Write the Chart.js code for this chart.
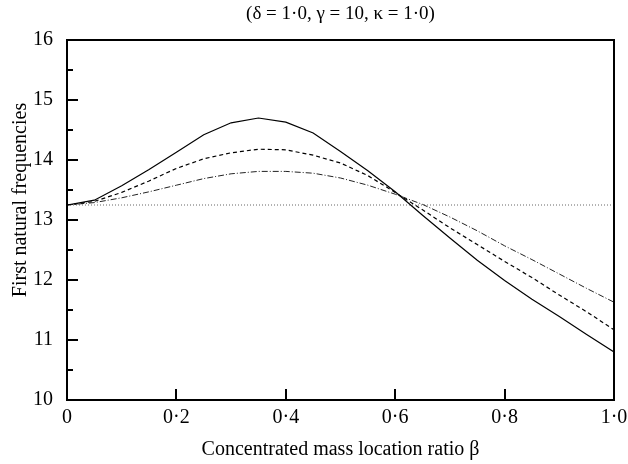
<!DOCTYPE html>
<html lang="en">
<head>
    <meta charset="UTF-8">
    <title>First natural frequencies</title>
    <style>
        html, body { margin: 0; padding: 0; background: #ffffff; }
    </style>
</head>
<body>
    <canvas id="freqChart" width="628" height="464"></canvas>

    <script src="https://cdn.jsdelivr.net/npm/chart.js"></script>
    <script>
        // concentrated mass location ratio beta
        const beta = [0, 0.05, 0.1, 0.15, 0.2, 0.25, 0.3, 0.35, 0.4, 0.45, 0.5,
                      0.55, 0.6, 0.65, 0.7, 0.75, 0.8, 0.85, 0.9, 0.95, 1.0];

        const solidCurve = [13.25, 13.33, 13.57, 13.84, 14.13, 14.42, 14.62, 14.70, 14.63, 14.45, 14.14,
                            13.82, 13.47, 13.08, 12.70, 12.33, 11.99, 11.68, 11.39, 11.09, 10.80];
        const dashedCurve = [13.25, 13.31, 13.46, 13.65, 13.86, 14.02, 14.12, 14.18, 14.17, 14.08, 13.95,
                             13.74, 13.46, 13.17, 12.87, 12.59, 12.31, 12.04, 11.75, 11.47, 11.17];
        const dashDotCurve = [13.25, 13.29, 13.37, 13.47, 13.58, 13.69, 13.77, 13.81, 13.81, 13.78, 13.70,
                              13.58, 13.43, 13.26, 13.05, 12.82, 12.57, 12.34, 12.10, 11.86, 11.63];
        const dottedCurve = [13.25, 13.25, 13.25, 13.25, 13.25, 13.25, 13.25, 13.25, 13.25, 13.25, 13.25,
                             13.25, 13.25, 13.25, 13.25, 13.25, 13.25, 13.25, 13.25, 13.25, 13.25];

        const xTickLabels = ['0', '0·2', '0·4', '0·6', '0·8', '1·0'];
        const yTickLabels = ['10', '11', '12', '13', '14', '15', '16'];
        const yTitle = 'First natural frequencies';

        const serif = 'Liberation Serif, DejaVu Serif, serif';

        function toPoints(values) {
            return values.map((v, i) => ({ x: beta[i], y: v }));
        }

        // frame + inward ticks like the original figure, and the y title
        const framePlugin = {
            id: 'frame',
            afterDraw(chart) {
                const ctx = chart.ctx;
                const a = chart.chartArea;
                const xs = chart.scales.x;
                const ys = chart.scales.y;
                ctx.save();
                ctx.strokeStyle = '#000';
                ctx.lineWidth = 2;
                ctx.strokeRect(a.left, a.top, a.right - a.left, a.bottom - a.top);

                ctx.beginPath();
                // y ticks: major at integers, minor at halves
                for (let k = 1; k < 12; k++) {
                    const py = Math.round(ys.getPixelForValue(10 + k * 0.5));
                    const len = k % 2 === 0 ? 11 : 6;
                    ctx.moveTo(a.left, py);
                    ctx.lineTo(a.left + len, py);
                }
                // x ticks: major every 0.2
                for (let i = 1; i < xTickLabels.length - 1; i++) {
                    const px = Math.round(xs.getPixelForValue(i * 0.2));
                    ctx.moveTo(px, a.bottom);
                    ctx.lineTo(px, a.bottom - 11);
                }
                ctx.stroke();

                // y axis title sits a bit above the middle in the original
                ctx.translate(21, 200);
                ctx.rotate(-Math.PI / 2);
                ctx.fillStyle = '#000';
                ctx.font = '20px ' + serif;
                ctx.textAlign = 'center';
                ctx.textBaseline = 'middle';
                ctx.fillText(yTitle, 0, 0);
                ctx.restore();
            }
        };

        const ctx = document.getElementById('freqChart').getContext('2d');
        const freqChart = new Chart(ctx, {
            type: 'line',
            data: {
                datasets: [
                    {
                        data: toPoints(solidCurve),
                        borderColor: '#000',
                        borderWidth: 1.2
                    },
                    {
                        data: toPoints(dashedCurve),
                        borderColor: '#000',
                        borderWidth: 1.2,
                        borderDash: [4, 3]
                    },
                    {
                        data: toPoints(dashDotCurve),
                        borderColor: '#222',
                        borderWidth: 1,
                        borderDash: [6, 2, 1, 2]
                    },
                    {
                        data: toPoints(dottedCurve),
                        borderColor: '#666',
                        borderWidth: 1,
                        borderDash: [1, 2]
                    }
                ]
            },
            options: {
                responsive: false,
                animation: false,
                events: [],
                elements: {
                    point: { radius: 0 },
                    line: { tension: 0, fill: false }
                },
                layout: { padding: { left: 0, right: 14, top: 0, bottom: 0 } },
                scales: {
                    x: {
                        type: 'linear',
                        min: 0,
                        max: 1,
                        grid: { display: false, drawTicks: false },
                        border: { display: false },
                        ticks: {
                            stepSize: 0.2,
                            padding: 6,
                            color: '#000',
                            maxRotation: 0,
                            font: { family: serif, size: 20 },
                            callback: (v, i) => xTickLabels[i]
                        },
                        title: {
                            display: true,
                            text: 'Concentrated mass location ratio β',
                            color: '#000',
                            font: { family: serif, size: 20 },
                            padding: { top: 0, bottom: 2 }
                        },
                        afterFit(scale) {
                            scale.height = 64;
                            scale.paddingLeft = 0;
                            scale.paddingRight = 0;
                        }
                    },
                    y: {
                        min: 10,
                        max: 16,
                        grid: { display: false, drawTicks: false },
                        border: { display: false },
                        ticks: {
                            stepSize: 1,
                            padding: 14,
                            color: '#000',
                            font: { family: serif, size: 20 },
                            callback: (v, i) => yTickLabels[i]
                        },
                        title: { display: false },
                        afterFit(scale) {
                            scale.width = 67;
                            scale.paddingTop = 0;
                            scale.paddingBottom = 0;
                        }
                    }
                },
                plugins: {
                    legend: { display: false },
                    tooltip: { enabled: false },
                    title: {
                        display: true,
                        fullSize: false,
                        text: '(δ = 1·0, γ = 10, κ = 1·0)',
                        color: '#000',
                        font: { family: serif, size: 19, weight: 'normal' },
                        padding: { top: 3, bottom: 14.2 }
                    }
                }
            },
            plugins: [framePlugin]
        });
    </script>
</body>
</html>
